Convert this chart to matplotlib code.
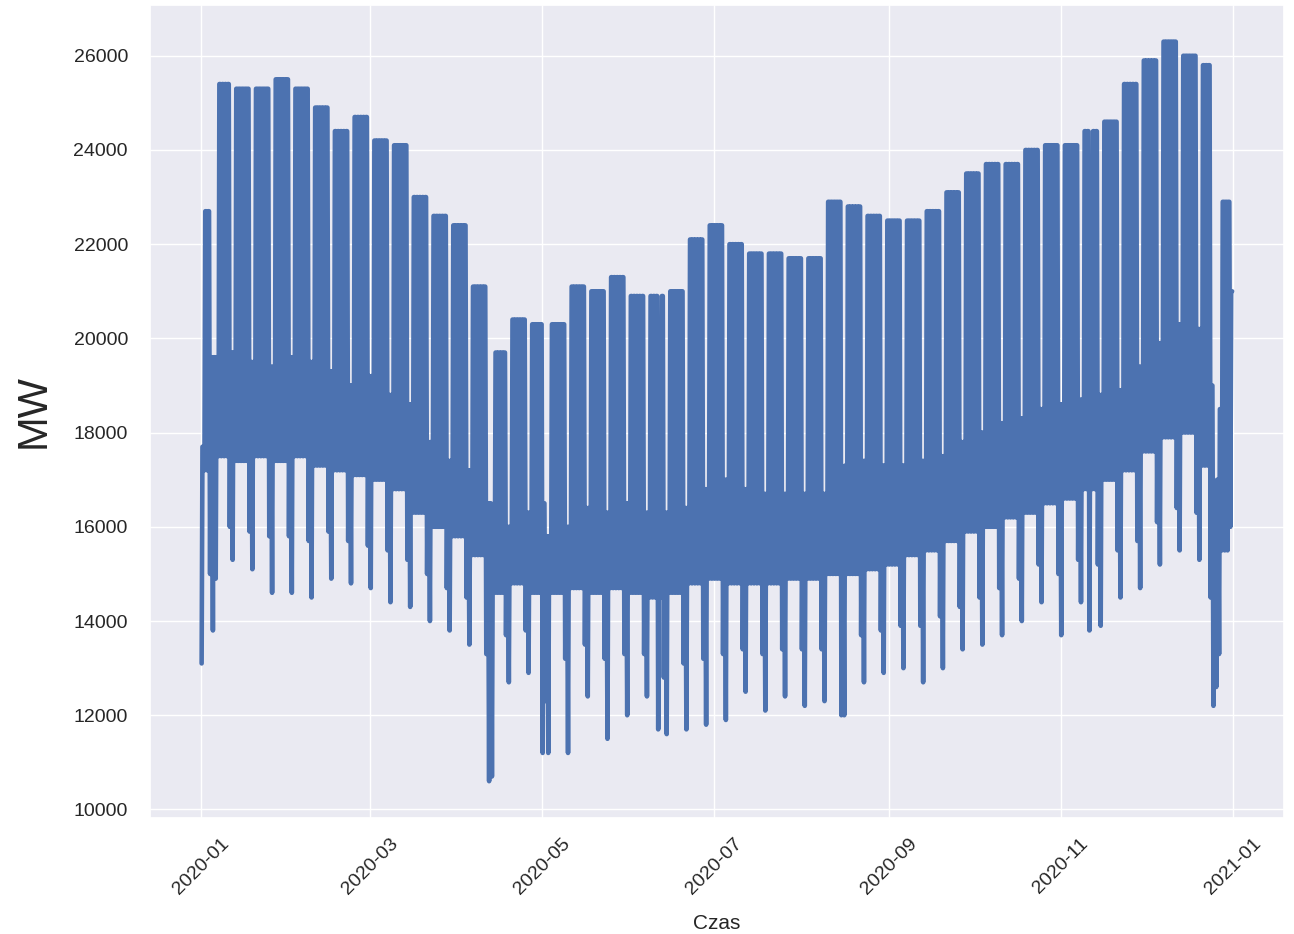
"""Hourly power demand 2020 - daily envelope redraw."""

import matplotlib
matplotlib.use("Agg")
import matplotlib.pyplot as plt
import pandas as pd
import seaborn as sns

# weeks start on Monday; week 0 = 2019-12-30 (data from 2020-01-01)
WEEK_START = pd.Timestamp("2019-12-30")

PEAK_WEEKDAY = [
    22700, 25400, 25300, 25300, 25500, 25300, 24900, 24400, 24700, 24200,
    24100, 23000, 22600, 22400, 21100, 19700, 20400, 20300, 20300, 21100,
    21000, 21300, 20900, 20900, 21000, 22100, 22400, 22000, 21800, 21800,
    21700, 21700, 22900, 22800, 22600, 22500, 22500, 22700, 23100, 23500,
    23700, 23700, 24000, 24100, 24100, 24400, 24600, 25400, 25900, 26300,
    26000, 25800, 22900,
]
LOW_WEEKDAY = [
    17200, 17500, 17400, 17500, 17400, 17500, 17300, 17200, 17100, 17000,
    16800, 16300, 16000, 15800, 15400, 14600, 14800, 14600, 14600, 14700,
    14600, 14700, 14600, 14500, 14600, 14800, 14900, 14800, 14800, 14800,
    14900, 14900, 15000, 15000, 15100, 15200, 15400, 15500, 15700, 15900,
    16000, 16200, 16300, 16500, 16600, 16800, 17000, 17200, 17600, 17900,
    18000, 17300, 15500,
]
PEAK_WEEKEND = [
    19600, 19700, 19500, 19400, 19600, 19500, 19300, 19000, 19200, 18800,
    18600, 17800, 17400, 17200, 16500, 16000, 16300, 15800, 16000, 16400,
    16300, 16500, 16300, 16300, 16400, 16800, 17000, 16800, 16700, 16700,
    16700, 16700, 17300, 17400, 17300, 17300, 17400, 17500, 17800, 18000,
    18200, 18300, 18500, 18600, 18700, 18800, 18900, 19400, 19900, 20300,
    20200, 18500, 20000,
]
LOW_SATURDAY = [
    15000, 16000, 15900, 15800, 15800, 15700, 15900, 15700, 15600, 15500,
    15300, 15000, 14700, 14500, 13300, 13700, 13800, 12300, 13200, 13500,
    13200, 13300, 13300, 12800, 13100, 13200, 13300, 13400, 13300, 13400,
    13400, 13400, 13300, 13700, 13800, 13900, 13900, 14100, 14300, 14500,
    14700, 14900, 15200, 15000, 15300, 15200, 15500, 15700, 16100, 16400,
    16300, 14500, 15000,
]
LOW_SUNDAY = [
    13800, 15300, 15100, 14600, 14600, 14500, 14900, 14800, 14700, 14400,
    14300, 14000, 13800, 13500, 10600, 12700, 12900, 11200, 11200, 12400,
    11500, 12000, 12400, 11600, 11700, 11800, 11900, 12500, 12100, 12400,
    12200, 12300, 12000, 12700, 12900, 13000, 12700, 13000, 13400, 13500,
    13700, 14000, 14400, 13700, 14400, 13900, 14500, 14700, 15200, 15500,
    15300, 13300, 15000,
]
# holidays: (daily low, daily high)
HOLIDAYS = {
    "2020-01-01": (13100, 17700),
    "2020-01-06": (14900, 19600),
    "2020-04-13": (10700, 15500),
    "2020-05-01": (11200, 16500),
    "2020-06-11": (11700, 17000),
    "2020-08-15": (12000, 16000),
    "2020-11-11": (13800, 19500),
    "2020-12-24": (14500, 19000),
    "2020-12-25": (12200, 16500),
    "2020-12-26": (12600, 17000),
    "2020-12-31": (16000, 21000),
}


def build_series():
    days = pd.date_range("2020-01-01", "2020-12-31", freq="D")
    times, values = [], []
    for day in days:
        week = (day - WEEK_START).days // 7
        key = day.strftime("%Y-%m-%d")
        if key in HOLIDAYS:
            low, high = HOLIDAYS[key]
        elif day.dayofweek < 5:
            low, high = LOW_WEEKDAY[week], PEAK_WEEKDAY[week]
        elif day.dayofweek == 5:
            low, high = LOW_SATURDAY[week], PEAK_WEEKEND[week]
        else:
            low, high = LOW_SUNDAY[week], PEAK_WEEKEND[week]
        # night low, then the daytime plateau (morning and evening peak)
        for hour, value in ((4, low), (11, high), (19, high)):
            times.append(day + pd.Timedelta(hours=hour))
            values.append(value)
    return pd.Series(values, index=pd.DatetimeIndex(times))


def main() -> None:
    sns.set_theme(style="darkgrid")
    plt.rcParams["font.family"] = ["Liberation Sans", "DejaVu Sans"]
    series = build_series()

    fig = plt.figure(figsize=(12.94, 9.34), dpi=100)
    ax = fig.add_axes([0.116, 0.124, 0.876, 0.871])
    ax.plot(series.index, series.values, color="#4c72b0", linewidth=3.3)
    ax.set_ylabel("MW", fontsize=30, labelpad=14)
    ax.set_xlabel("Czas", fontsize=15, labelpad=12)
    ax.tick_params(axis="both", labelsize=14)
    ax.tick_params(axis="y", pad=10)
    ax.tick_params(axis="x", pad=6)
    plt.setp(ax.get_xticklabels(), rotation=45)
    fig.savefig("out.png", dpi=100)
    plt.close(fig)


if __name__ == "__main__":
    main()
